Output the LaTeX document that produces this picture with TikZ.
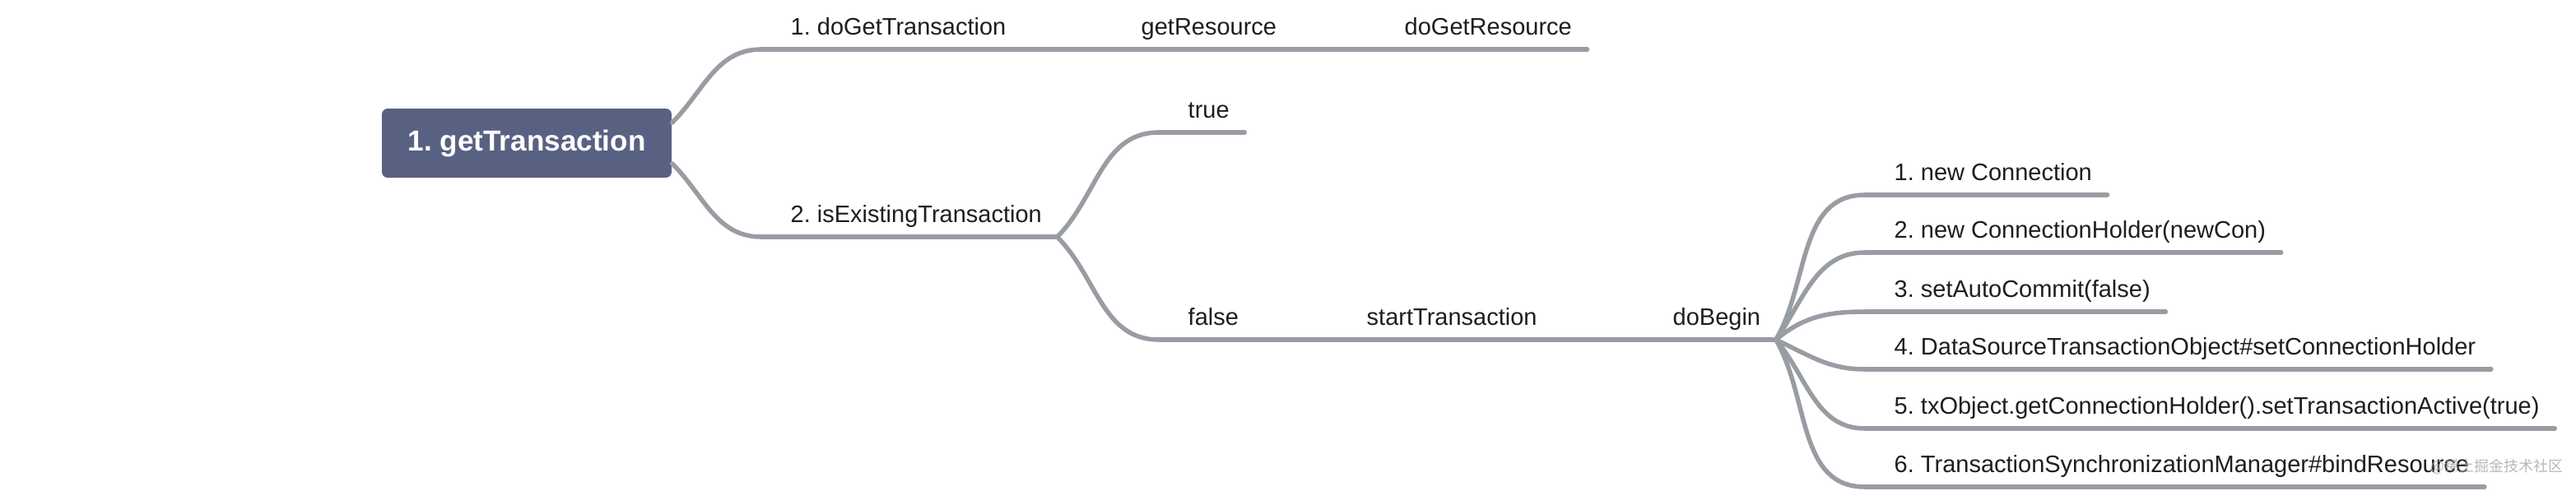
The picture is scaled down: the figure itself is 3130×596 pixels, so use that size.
\documentclass[tikz,border=0pt]{standalone}
\usepackage{fontspec}
\setmainfont{Liberation Sans}
\newfontfamily\cjkfont{Noto Sans CJK SC}
\usetikzlibrary{positioning}
\definecolor{mmroot}{RGB}{89,97,131}
\definecolor{mmline}{RGB}{152,157,163}
\definecolor{mmtext}{RGB}{30,30,30}

\tikzset{
  topic/.style={anchor=south west,inner xsep=0pt,inner ysep=1.65mm,text depth=0pt,text=mmtext,
    font=\fontsize{8.25}{10}\selectfont\frenchspacing,
    execute at begin node=\hspace*{3.5mm},execute at end node=\hspace*{1.8mm}},
  branch/.style={draw=mmline,line width=0.55mm,line cap=round},
}

\begin{document}
\frenchspacing
\begin{tikzpicture}[x=0.1mm,y=-0.1mm]
  \useasboundingbox (0,0) rectangle (3130,596);
  % central topic
  \node[fill=mmroot,rounded corners=0.7mm,minimum width=35.2mm,minimum height=8.4mm,text=white,font=\fontsize{10}{12}\selectfont\bfseries\frenchspacing] (root) at (640,174) {1. getTransaction};
  % first branch
  \node[topic] (t1) at (925,60) {1. doGetTransaction};
  \node[topic] (t11) at (1351,60) {getResource};
  \node[topic] (t111) at (1671,60) {doGetResource};
  % second branch
  \node[topic] (t2) at (925,288) {2. isExistingTransaction};
  \node[topic] (tt) at (1408,161) {true};
  \node[topic] (tf) at (1408,413) {false};
  \node[topic] (ts) at (1625,413) {startTransaction};
  \node[topic] (tb) at (1997,413) {doBegin};
  % doBegin steps
  \node[topic] (c1) at (2266,237) {1. new Connection};
  \node[topic] (c2) at (2266,307) {2. new ConnectionHolder(newCon)};
  \node[topic] (c3) at (2266,379) {3. setAutoCommit(false)};
  \node[topic] (c4) at (2266,449) {4. DataSourceTransactionObject\#setConnectionHolder};
  \node[topic] (c5) at (2266,521) {5. txObject.getConnectionHolder().setTransactionActive(true)};
  \node[topic] (c6) at (2266,592) {6. TransactionSynchronizationManager\#bindResource};

  \foreach \n in {t1,t11,t111,t2,tt,tf,ts,tb,c1,c2,c3,c4,c5,c6}
    \draw[branch] (\n.south west) -- (\n.south east);
  \draw[branch] (root.8) to[out=45,in=180] (t1.south west);
  \draw[branch] (root.-8) to[out=-45,in=180] (t2.south west);
  \draw[branch] (t1.south east) -- (t11.south west);
  \draw[branch] (t11.south east) -- (t111.south west);
  \draw[branch] (t2.south east) to[out=45,in=180] (tt.south west);
  \draw[branch] (t2.south east) to[out=-45,in=180] (tf.south west);
  \draw[branch] (tf.south east) -- (ts.south west);
  \draw[branch] (ts.south east) -- (tb.south west);
  \foreach \c/\a in {c1/60,c2/55,c3/40,c4/-25,c5/-50,c6/-60}
    \draw[branch] (tb.south east) to[out=\a,in=180] (\c.south west);

  \node[anchor=west,inner sep=0pt,text=gray!70,opacity=0.8,font=\cjkfont\fontsize{5.1}{6}\selectfont] (wm) at (2953,567) {@稀土掘金技术社区};
\end{tikzpicture}
\end{document}
